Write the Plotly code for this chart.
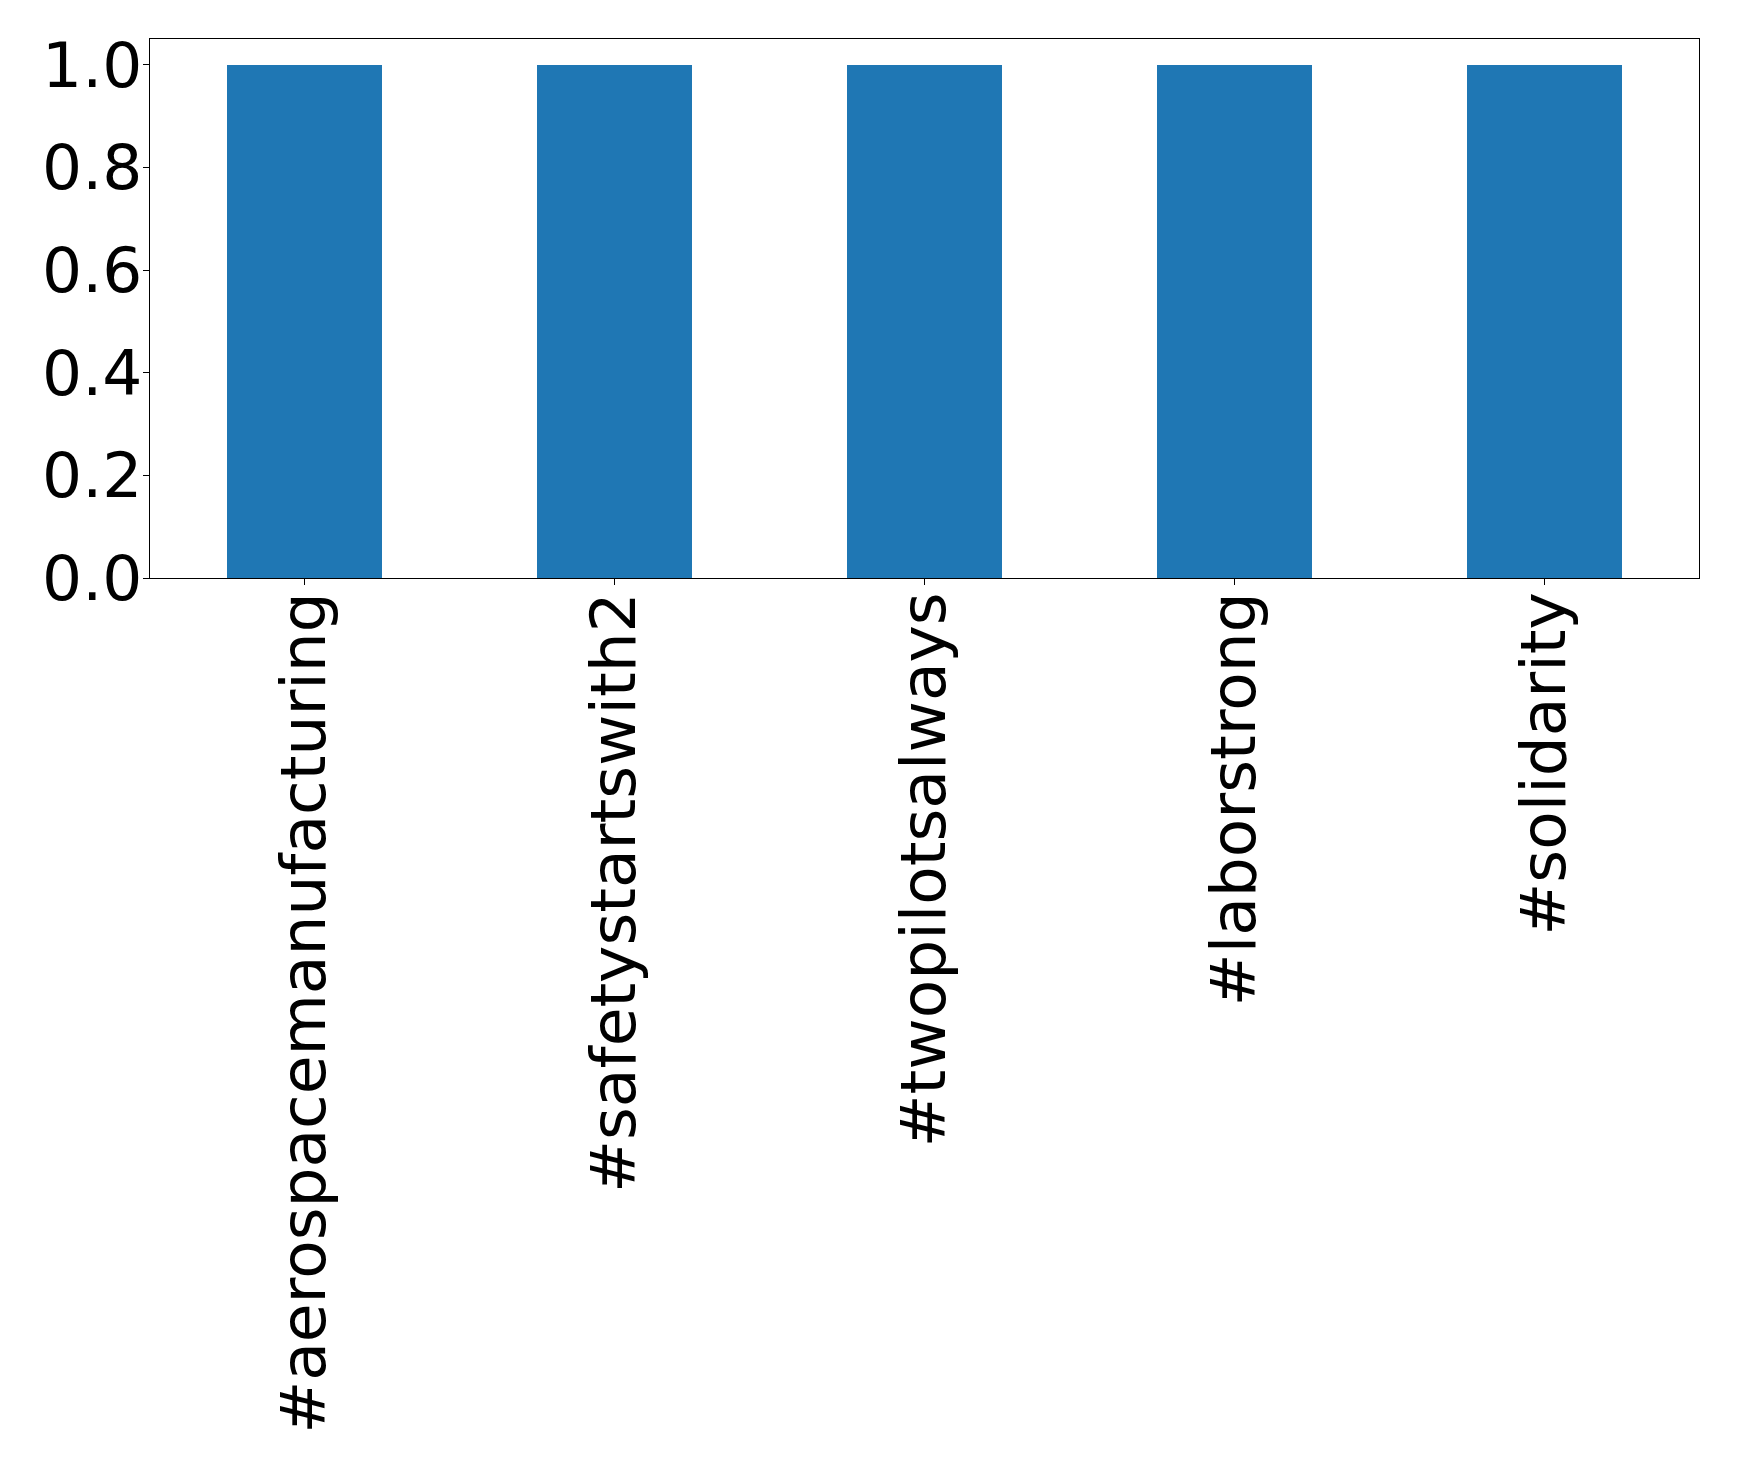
import plotly.graph_objects as go

categories = ["#aerospacemanufacturing", "#safetystartswith2", "#twopilotsalways", "#laborstrong", "#solidarity"]
values = [1, 1, 1, 1, 1]
y_ticks = [0.0, 0.2, 0.4, 0.6, 0.8, 1.0]
y_tick_labels = ["0.0", "0.2", "0.4", "0.6", "0.8", "1.0"]

fig = go.Figure(go.Bar(x=categories, y=values, width=0.5, marker=dict(color="#1f77b4", line=dict(width=0))))

font = dict(family="DejaVu Sans", size=63, color="black")
fig.update_layout(
    width=1739, height=1462,
    margin=dict(l=142, r=48, t=31, b=892, pad=0),
    paper_bgcolor="white", plot_bgcolor="white",
    showlegend=False,
    bargap=0,
)
fig.update_xaxes(
    range=[-0.5, 4.5], tickangle=-90, tickfont=font,
    showline=True, linecolor="black", linewidth=1.2, mirror=True,
    ticks="outside", ticklen=6, tickcolor="black", showgrid=False,
    ticklabelstandoff=-18,
)
fig.update_yaxes(
    range=[0, 1.05], tickvals=y_ticks, ticktext=y_tick_labels, tickfont=font,
    showline=True, linecolor="black", linewidth=1.2, mirror=True,
    ticks="outside", ticklen=6, tickcolor="black", showgrid=False, zeroline=False,
    ticklabelstandoff=-12,
)
fig.write_html("out.html")
